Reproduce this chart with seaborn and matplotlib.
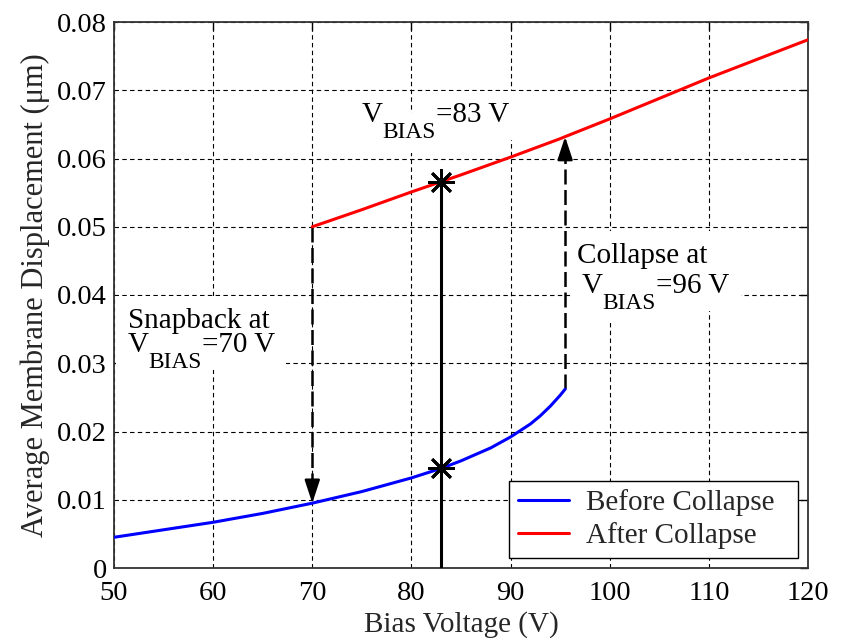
import matplotlib
matplotlib.use("Agg")
import matplotlib.pyplot as plt
import seaborn as sns
import pandas as pd

# Membrane displacement vs. bias voltage, read per branch
before_v = [50, 55, 60, 65, 70, 75, 80, 83, 85, 88, 90, 92, 93, 94, 95, 95.5]
before_d = [0.0045, 0.0056, 0.0067, 0.0080, 0.0095, 0.0112, 0.0132, 0.0146,
            0.0157, 0.0176, 0.0192, 0.0211, 0.0223, 0.0237, 0.0253, 0.0262]
after_v = [70, 75, 80, 83, 85, 90, 95, 95.5, 100, 105, 110, 115, 120]
after_d = [0.0500, 0.0525, 0.0551, 0.0566, 0.0576, 0.0602, 0.0629, 0.0632,
           0.0658, 0.0688, 0.0718, 0.0746, 0.0774]
series_names = ["Before Collapse", "After Collapse"]

snapback_v = 70
collapse_v = 95.5
operating_v = 83
operating_low = 0.0146
operating_high = 0.0566
snapback_top = 0.0500
snapback_bottom = 0.0095
collapse_bottom = 0.0262
collapse_top = 0.0632

x_ticks = [50, 60, 70, 80, 90, 100, 110, 120]
y_ticks = [0, 0.01, 0.02, 0.03, 0.04, 0.05, 0.06, 0.07, 0.08]
y_tick_labels = ["0", "0.01", "0.02", "0.03", "0.04", "0.05", "0.06", "0.07", "0.08"]

df = pd.concat([
    pd.DataFrame({"v": before_v, "d": before_d, "branch": series_names[0]}),
    pd.DataFrame({"v": after_v, "d": after_d, "branch": series_names[1]}),
])

sns.set_theme(style="white")
plt.rcParams["font.family"] = ["Liberation Serif", "DejaVu Serif"]

FS = 21
DPI = 100
fig = plt.figure(figsize=(8.45, 6.38), dpi=DPI)
ax = fig.add_axes([114 / 845, 1 - 568 / 638, (808 - 114) / 845, (568 - 22) / 638])

ax.set_xlim(50, 120)
ax.set_ylim(0, 0.08)
ax.set_xticks(x_ticks)
ax.set_yticks(y_ticks)
ax.set_yticklabels(y_tick_labels)
ax.grid(True, color="black", linestyle=(0, (4, 3)), linewidth=0.8)
ax.set_axisbelow(True)

# Vertical operating line at 83 V with markers on both branches
ax.plot([operating_v, operating_v], [0, operating_high], color="black", lw=2.2, zorder=3)

# Snapback (down) and collapse (up) transitions
head = dict(arrowstyle="-|>,head_length=1.0,head_width=0.33", color="black",
            lw=1.8, shrinkA=0, shrinkB=0, mutation_scale=14)
dash = (0, (6, 2.2))
ax.plot([snapback_v, snapback_v], [snapback_top, snapback_bottom + 0.002],
        color="black", lw=1.8, linestyle=dash, zorder=3)
ax.annotate("", xy=(snapback_v, snapback_bottom), xytext=(snapback_v, snapback_bottom + 0.0035),
            arrowprops=head, zorder=4)
ax.plot([collapse_v, collapse_v], [collapse_bottom, collapse_top - 0.002],
        color="black", lw=1.8, linestyle=dash, zorder=3)
ax.annotate("", xy=(collapse_v, collapse_top), xytext=(collapse_v, collapse_top - 0.0035),
            arrowprops=head, zorder=4)

sns.lineplot(data=df, x="v", y="d", hue="branch", palette=["#0000ff", "#ff0000"],
             linewidth=2.2, ax=ax, sort=False, estimator=None, zorder=5)

ax.plot([operating_v, operating_v], [operating_low, operating_high], linestyle="none",
        marker=(8, 2, 0), markersize=19, markeredgewidth=2.0, color="black", zorder=6)

renderer = fig.canvas.get_renderer()


def put(x, y, s, dx=0.0, dy=0.0, size=FS):
    """Place a text piece; a white box hides the grid behind it, glyphs go on top."""
    box = dict(boxstyle="square,pad=0.4", fc="white", ec="none")
    ax.annotate(s, xy=(x, y), xycoords="data", xytext=(dx, dy), textcoords="offset points",
                fontsize=size, ha="left", va="baseline", color="white", bbox=box, zorder=2)
    t = ax.annotate(s, xy=(x, y), xycoords="data", xytext=(dx, dy), textcoords="offset points",
                    fontsize=size, ha="left", va="baseline", color="black", zorder=8)
    return t.get_window_extent(renderer).width * 72 / DPI


def vbias_text(x, y, rest):
    """Write V with a lowered BIAS subscript, followed by the rest of the label."""
    w1 = put(x, y, "V")
    w2 = put(x, y, "BIAS", dx=w1 - 0.5, dy=-11.5, size=FS * 0.8)
    put(x, y, rest, dx=w1 + w2 - 0.5)


vbias_text(75.0, 0.0653, "=83 V")
put(51.4, 0.0352, "Snapback at")
vbias_text(51.4, 0.0316, "=70 V")
put(96.7, 0.0447, "Collapse at")
vbias_text(97.2, 0.0403, "=96 V")

ax.set_xlabel("Bias Voltage (V)", fontsize=FS, labelpad=4)
ax.set_ylabel("Average Membrane Displacement (\u03bcm)", fontsize=22, labelpad=5)
ax.tick_params(axis="both", which="both", direction="in", length=6, width=1.0,
               top=True, right=True, labelsize=FS - 0.5, pad=5, colors="black")
ax.tick_params(axis="x", pad=9)
for s in ax.spines.values():
    s.set_visible(True)
    s.set_color("#333333")
    s.set_linewidth(1.3)

# Legend frame spans a fixed box in the lower right corner
leg_x0 = (509 - 114) / 694
leg_w = (798 - 509) / 694
leg_y0 = (568 - 558) / 546
leg = ax.legend(loc="lower left", bbox_to_anchor=(leg_x0, leg_y0, leg_w, 0.1), mode="expand",
                borderaxespad=0, fontsize=FS, frameon=True, fancybox=False, edgecolor="black",
                handlelength=1.75, handletextpad=0.6, labelspacing=0.2,
                borderpad=0.3, title=None)
leg.get_frame().set_linewidth(1.0)
leg.get_frame().set_alpha(1)
leg.set_zorder(10)

fig.savefig("out.png", dpi=DPI, facecolor="white")
